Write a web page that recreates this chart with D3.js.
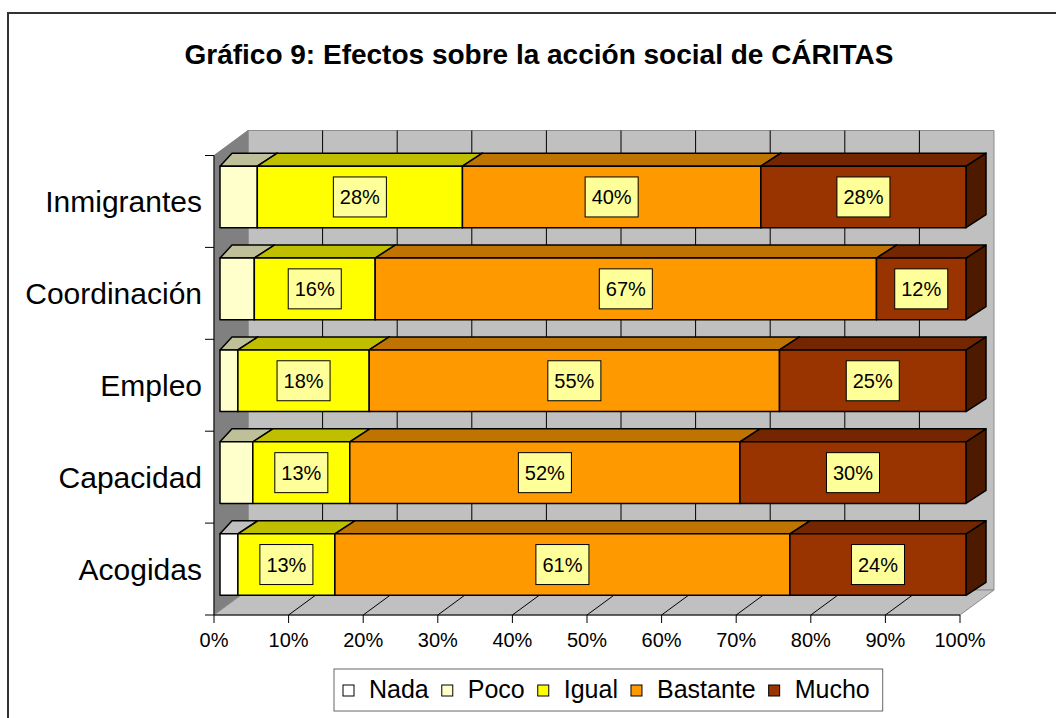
<!DOCTYPE html>
<html>
<head>
<meta charset="utf-8">
<script src="https://cdn.jsdelivr.net/npm/d3@7"></script>
<style>
  body { margin: 0; background: #fff; }
  svg { display: block; font-family: Arial, "Liberation Sans", sans-serif; }
</style>
</head>
<body>
<div id="chart"></div>
<script>
// data, top to bottom
const categories = ["Inmigrantes", "Coordinación", "Empleo", "Capacidad", "Acogidas"];
const seriesNames = ["Nada", "Poco", "Igual", "Bastante", "Mucho"];
const nada     = [0, 0, 0, 0, 2.4];
const poco     = [5.0, 4.6, 2.4, 4.4, 0];
const igual    = [27.5, 16.2, 17.6, 13.0, 13.0];
const bastante = [40.0, 67.2, 55.0, 52.3, 61.0];
const mucho    = [27.5, 12.0, 25.0, 30.3, 23.6];
const xTicks = [0, 10, 20, 30, 40, 50, 60, 70, 80, 90, 100];
const labelled = ["Igual", "Bastante", "Mucho"];

const colors = {
    Nada: "#ffffff", Poco: "#ffffcc", Igual: "#ffff00", Bastante: "#ff9900", Mucho: "#993300"
};

const W = 1056, H = 718;

// darker shades for the 3d faces
const shade = (c, k) => {
    const r = d3.rgb(c);
    return d3.rgb(r.r * k, r.g * k, r.b * k).formatHex();
};

const rows = categories.map((c, i) => ({
    cat: c, Nada: nada[i], Poco: poco[i], Igual: igual[i], Bastante: bastante[i], Mucho: mucho[i]
}));
const stacked = d3.stack().keys(seriesNames)(rows);

const svg = d3.select("#chart").append("svg")
    .attr("width", W)
    .attr("height", H);

svg.append("rect").attr("width", W).attr("height", H).attr("fill", "#fff");

// outer chart border (runs off the page on the right and bottom)
svg.append("rect")
    .attr("x", 8).attr("y", 13)
    .attr("width", W + 20).attr("height", H + 20)
    .attr("fill", "none")
    .attr("stroke", "#333")
    .attr("stroke-width", 2);

svg.append("text")
    .attr("x", 539).attr("y", 64)
    .attr("text-anchor", "middle")
    .attr("font-weight", "bold")
    .attr("font-size", 28)
    .text("Gráfico 9: Efectos sobre la acción social de CÁRITAS");

// scales
const x = d3.scaleLinear().domain([0, 100]).range([214, 960]);
const y = d3.scaleBand().domain(categories).range([155.5, 615]).paddingInner(0.33).paddingOuter(0.165);
const axisTop = 155.5, axisBottom = 615;

// wall depth and bar depth
const WX = 34, WY = -25;
const BX = 6, BY = -4.5;      // bar front face offset from the front plane
const DX = 20, DX0 = 12, DY = -13;

// walls
const walls = svg.append("g");
walls.append("polygon")
    .attr("points", [[x(0) + WX, axisTop + WY], [x(100) + WX, axisTop + WY], [x(100) + WX, axisBottom + WY], [x(0) + WX, axisBottom + WY]].join(" "))
    .attr("fill", "#c0c0c0").attr("stroke", "#8c8c8c");
walls.append("polygon")
    .attr("points", [[x(0), axisTop], [x(0) + WX, axisTop + WY], [x(0) + WX, axisBottom + WY], [x(0), axisBottom]].join(" "))
    .attr("fill", "#808080").attr("stroke", "#808080");
walls.append("polygon")
    .attr("points", [[x(0), axisBottom], [x(0) + WX, axisBottom + WY], [x(100) + WX, axisBottom + WY], [x(100), axisBottom]].join(" "))
    .attr("fill", "#c0c0c0").attr("stroke", "#8c8c8c");

// gridlines on back wall and floor
walls.selectAll("line.gb")
    .data(xTicks.slice(1, -1))
    .join("line")
    .attr("x1", d => x(d) + WX).attr("x2", d => x(d) + WX)
    .attr("y1", axisTop + WY).attr("y2", axisBottom + WY)
    .attr("stroke", "#000");
walls.selectAll("line.gf")
    .data(xTicks.slice(1, -1))
    .join("line")
    .attr("x1", d => x(d)).attr("x2", d => x(d) + WX)
    .attr("y1", axisBottom).attr("y2", axisBottom + WY)
    .attr("stroke", "#000");

// axes
const axes = svg.append("g").attr("stroke", "#000");
axes.append("line").attr("x1", x(0)).attr("x2", x(0)).attr("y1", axisTop).attr("y2", axisBottom);
axes.append("line").attr("x1", x(0)).attr("x2", x(100)).attr("y1", axisBottom).attr("y2", axisBottom);
const catTicks = d3.range(categories.length + 1).map(i => axisTop + i * y.step());
axes.selectAll("line.ty")
    .data(catTicks)
    .join("line")
    .attr("x1", x(0) - 9).attr("x2", x(0))
    .attr("y1", d => d).attr("y2", d => d);
axes.selectAll("line.tx")
    .data(xTicks)
    .join("line")
    .attr("x1", d => x(d)).attr("x2", d => x(d))
    .attr("y1", axisBottom).attr("y2", axisBottom + 8);

svg.append("g")
    .selectAll("text")
    .data(xTicks)
    .join("text")
    .attr("x", d => x(d))
    .attr("y", 647)
    .attr("text-anchor", "middle")
    .attr("font-size", 20)
    .text(d => d + "%");

svg.append("g")
    .selectAll("text")
    .data(categories)
    .join("text")
    .attr("x", 202)
    .attr("y", d => y(d) + y.bandwidth() / 2 + 11)
    .attr("text-anchor", "end")
    .attr("font-size", 30)
    .text(d => d);

// bars
const bars = svg.append("g").attr("stroke", "#000").attr("stroke-width", 1.5).attr("stroke-linejoin", "round");
for (const layer of stacked) {
    const key = layer.key;
    const c = colors[key];
    for (const seg of layer) {
        if (seg[1] - seg[0] <= 0) continue;
        const x0 = x(seg[0]) + BX, x1 = x(seg[1]) + BX;
        const yt = y(seg.data.cat) + BY, yb = yt + y.bandwidth();
        const d0 = seg[0] == 0 ? DX0 : DX;
        bars.append("polygon")
            .attr("points", [[x1, yt], [x1 + DX, yt + DY], [x1 + DX, yb + DY], [x1, yb]].join(" "))
            .attr("fill", shade(c, 0.5));
        bars.append("polygon")
            .attr("points", [[x0, yt], [x1, yt], [x1 + DX, yt + DY], [x0 + d0, yt + DY]].join(" "))
            .attr("fill", shade(c, 0.75));
        bars.append("rect")
            .attr("x", x0).attr("y", yt)
            .attr("width", x1 - x0).attr("height", yb - yt)
            .attr("fill", c);
    }
}

// value labels
const labels = svg.append("g").attr("font-size", 20);
for (const layer of stacked) {
    if (!labelled.includes(layer.key)) continue;
    for (const seg of layer) {
        const cx = (x(seg[0]) + x(seg[1])) / 2 + BX;
        const cy = y(seg.data.cat) + BY + y.bandwidth() / 2;
        const g = labels.append("g");
        const t = g.append("text")
            .attr("x", cx).attr("y", cy + 7)
            .attr("text-anchor", "middle")
            .text(d3.format(".0f")(seg[1] - seg[0]) + "%");
        const w = t.node().getComputedTextLength() + 13;
        g.insert("rect", "text")
            .attr("x", cx - w / 2).attr("y", cy - 20)
            .attr("width", w).attr("height", 40)
            .attr("fill", "#ffff99")
            .attr("stroke", "#000");
    }
}

// legend
const legend = svg.append("g").attr("font-size", 25);
let lx = 343;
for (const s of seriesNames) {
    legend.append("rect")
        .attr("x", lx).attr("y", 685)
        .attr("width", 11).attr("height", 11)
        .attr("fill", colors[s])
        .attr("stroke", "#000");
    const t = legend.append("text")
        .attr("x", lx + 26).attr("y", 698)
        .text(s);
    lx += 26 + t.node().getComputedTextLength() + 13;
}
legend.insert("rect", ":first-child")
    .attr("x", 334).attr("y", 669)
    .attr("width", lx - 334).attr("height", 42)
    .attr("fill", "#fff")
    .attr("stroke", "#666");
</script>
</body>
</html>
